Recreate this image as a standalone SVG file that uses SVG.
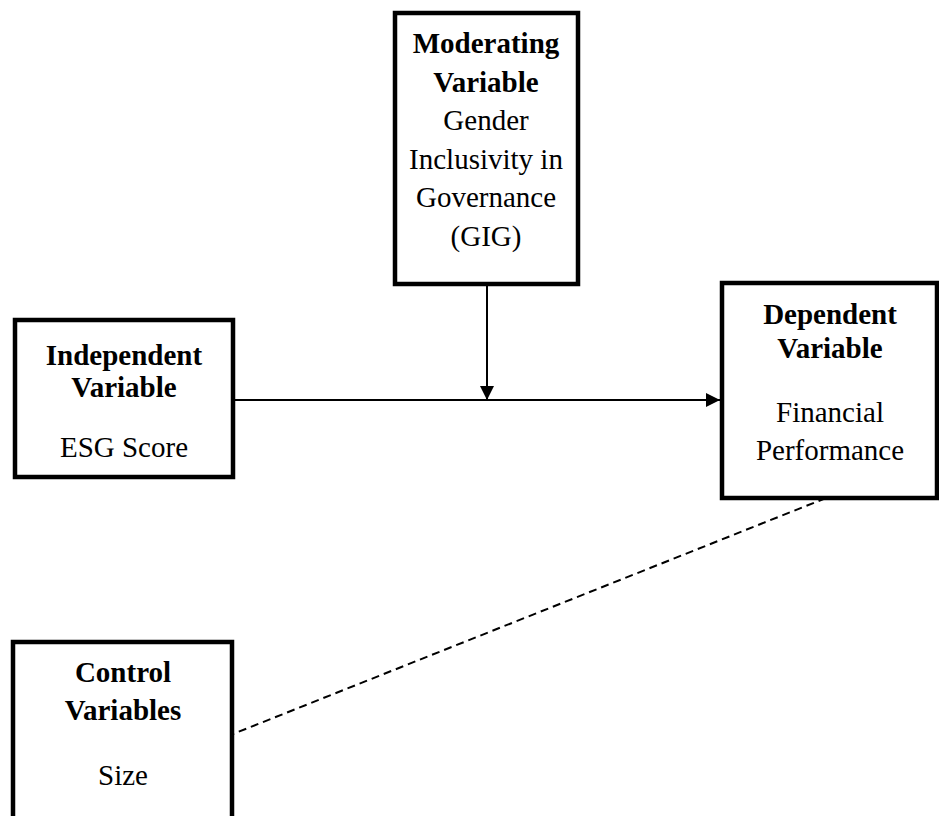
<svg xmlns="http://www.w3.org/2000/svg" width="939" height="816" viewBox="0 0 939 816">
<style>
.box{fill:#fff;stroke:#000;stroke-width:4.5}
.t{font-family:"Liberation Serif","Times New Roman",serif;font-size:29px;text-anchor:middle;fill:#000}
.b{font-weight:bold}
.ln{stroke:#000;stroke-width:2;fill:none}
</style>
<defs>
<marker id="ah" viewBox="0 0 10 10" refX="10" refY="5" markerWidth="5" markerHeight="5" orient="auto" markerUnits="userSpaceOnUse">
<path d="M0,0 L10,5 L0,10 z" fill="#000"/>
</marker>
<marker id="ah2" viewBox="0 0 14 14" refX="14" refY="7" markerWidth="14" markerHeight="14" orient="auto" markerUnits="userSpaceOnUse">
<path d="M0,0 L14,7 L0,14 z" fill="#000"/>
</marker>
</defs>
<g id="connectors">
<line class="ln" x1="234" y1="400" x2="720" y2="400" marker-end="url(#ah2)"/>
<line class="ln" x1="487" y1="284" x2="487" y2="400" marker-end="url(#ah2)"/>
<line class="ln" x1="826" y1="498" x2="233" y2="734" stroke-dasharray="8,5"/>
</g>
<g id="moderating">
<rect class="box" x="395" y="13" width="183" height="271"/>
<text class="t b" x="486" y="53">Moderating</text>
<text class="t b" x="486" y="92">Variable</text>
<text class="t" x="486" y="130">Gender</text>
<text class="t" x="486" y="169">Inclusivity in</text>
<text class="t" x="486" y="207">Governance</text>
<text class="t" x="486" y="246">(GIG)</text>
</g>
<g id="independent">
<rect class="box" x="15" y="320" width="218" height="157"/>
<text class="t b" x="124" y="365">Independent</text>
<text class="t b" x="124" y="397">Variable</text>
<text class="t" x="124" y="457">ESG Score</text>
</g>
<g id="dependent">
<rect class="box" x="722" y="283" width="215" height="215"/>
<text class="t b" x="830" y="324">Dependent</text>
<text class="t b" x="830" y="358">Variable</text>
<text class="t" x="830" y="422">Financial</text>
<text class="t" x="830" y="460">Performance</text>
</g>
<g id="control">
<rect class="box" x="13" y="642" width="219" height="190"/>
<text class="t b" x="123" y="682">Control</text>
<text class="t b" x="123" y="720">Variables</text>
<text class="t" x="123" y="785">Size</text>
</g>
</svg>
